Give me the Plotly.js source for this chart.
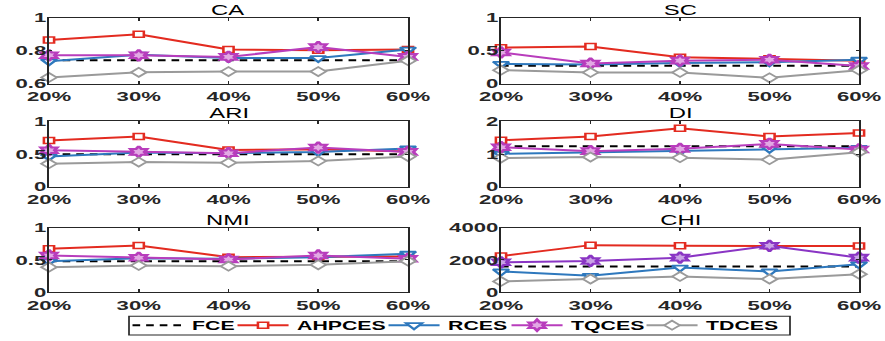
<!DOCTYPE html>
<html><head><meta charset="utf-8">
<script src="https://cdn.plot.ly/plotly-3.0.1.min.js"></script>
<style>
html,body{margin:0;padding:0;overflow:hidden;background:#fff}
#wrap{width:885px;height:341px;overflow:hidden}
#chart{width:520px;height:341px;transform:scaleX(1.701923);transform-origin:0 0}
</style></head><body><div id="wrap"><div id="chart"></div></div>
<script>
// ---- data ----
const xVals = [20, 30, 40, 50, 60];
const xLabels = ['20%', '30%', '40%', '50%', '60%'];
const seriesNames = ['FCE', 'AHPCES', 'RCES', 'TQCES', 'TDCES'];
const panelTitles = ['CA', 'SC', 'ARI', 'DI', 'NMI', 'CHI'];

const caFCE    = [0.742, 0.742, 0.742, 0.742, 0.742];
const caAHPCES = [0.865, 0.900, 0.807, 0.803, 0.807];
const caRCES   = [0.735, 0.776, 0.755, 0.755, 0.807];
const caTQCES  = [0.772, 0.772, 0.762, 0.822, 0.762];
const caTDCES  = [0.637, 0.668, 0.673, 0.673, 0.739];
const caTicks  = [0.6, 0.8, 1];
const caTickText = ['0.6', '0.8', '1'];

const scFCE    = [0.27, 0.27, 0.27, 0.27, 0.27];
const scAHPCES = [0.546, 0.565, 0.400, 0.377, 0.348];
const scRCES   = [0.300, 0.290, 0.314, 0.324, 0.362];
const scTQCES  = [0.473, 0.304, 0.348, 0.362, 0.266];
const scTDCES  = [0.203, 0.169, 0.169, 0.087, 0.203];
const scTicks  = [0, 0.5, 1];
const scTickText = ['0', '0.5', '1'];

const ariFCE    = [0.497, 0.497, 0.497, 0.497, 0.497];
const ariAHPCES = [0.708, 0.769, 0.564, 0.574, 0.538];
const ariRCES   = [0.462, 0.523, 0.513, 0.533, 0.585];
const ariTQCES  = [0.559, 0.533, 0.513, 0.600, 0.533];
const ariTDCES  = [0.354, 0.379, 0.369, 0.395, 0.462];
const ariTicks  = [0, 0.5, 1];
const ariTickText = ['0', '0.5', '1'];

const diFCE    = [1.24, 1.24, 1.24, 1.24, 1.24];
const diAHPCES = [1.424, 1.535, 1.788, 1.535, 1.646];
const diRCES   = [1.01, 1.06, 1.09, 1.16, 1.19];
const diTQCES  = [1.21, 1.09, 1.16, 1.31, 1.14];
const diTDCES  = [0.88, 0.91, 0.89, 0.83, 1.06];
const diTicks  = [0, 1, 2];
const diTickText = ['0', '1', '2'];

const nmiFCE    = [0.48, 0.48, 0.48, 0.48, 0.48];
const nmiAHPCES = [0.674, 0.725, 0.544, 0.554, 0.554];
const nmiRCES   = [0.482, 0.528, 0.518, 0.544, 0.596];
const nmiTQCES  = [0.570, 0.534, 0.508, 0.570, 0.518];
const nmiTDCES  = [0.389, 0.415, 0.404, 0.425, 0.482];
const nmiTicks  = [0, 0.5, 1];
const nmiTickText = ['0', '0.5', '1'];

const chiFCE    = [1590, 1590, 1590, 1590, 1590];
const chiAHPCES = [2245, 2918, 2877, 2877, 2857];
const chiRCES   = [1286, 1020, 1530, 1286, 1734];
const chiTQCES  = [1857, 1938, 2143, 2877, 2143];
const chiTDCES  = [673, 816, 980, 816, 1122];
const chiTicks  = [0, 2000, 4000];
const chiTickText = ['0', '2000', '4000'];

// ---- panels ----
const panels = [
  {data: [caFCE, caAHPCES, caRCES, caTQCES, caTDCES], ticks: caTicks, tt: caTickText, range: [0.6, 1]},
  {data: [scFCE, scAHPCES, scRCES, scTQCES, scTDCES], ticks: scTicks, tt: scTickText, range: [0, 1]},
  {data: [ariFCE, ariAHPCES, ariRCES, ariTQCES, ariTDCES], ticks: ariTicks, tt: ariTickText, range: [0, 1]},
  {data: [diFCE, diAHPCES, diRCES, diTQCES, diTDCES], ticks: diTicks, tt: diTickText, range: [0, 2]},
  {data: [nmiFCE, nmiAHPCES, nmiRCES, nmiTQCES, nmiTDCES], ticks: nmiTicks, tt: nmiTickText, range: [0, 1]},
  {data: [chiFCE, chiAHPCES, chiRCES, chiTQCES, chiTDCES], ticks: chiTicks, tt: chiTickText, range: [0, 4000]}
];

const W = 885, H = 341;
const xDom = [[49 / W, 408 / W], [501 / W, 859 / W]];
const yDom = [[1 - 84 / H, 1 - 18 / H], [1 - 188 / H, 1 - 122 / H], [1 - 294 / H, 1 - 229 / H]];
const legendLineStart = [135, 240, 391, 514, 649];

const RED = '#e32b20', BLUE = '#2e78bd', MAG = '#b83dbc', GRAY = '#9a9a9a', PURP = '#8a35c4';
function style(k, panelIdx) {
  if (k === 0) return {mode: 'lines', line: {color: '#000', width: 2, dash: '4.5px,3.5px'}};
  if (k === 1) return {mode: 'lines+markers', line: {color: RED, width: 2},
    marker: {symbol: 'square', size: 6, color: '#fff', line: {color: RED, width: 1.5}}};
  if (k === 2) return {mode: 'lines+markers', line: {color: BLUE, width: 2},
    marker: {symbol: 'triangle-down', size: 8, color: '#fff', line: {color: BLUE, width: 1.8}}};
  if (k === 3) { const c = panelIdx === 5 ? PURP : MAG;
    const f = panelIdx === 5 ? '#c9a3e6' : '#e2a9e4';
    return {mode: 'lines+markers', line: {color: c, width: 2},
    marker: {symbol: 'hexagram', size: 8.5, color: f, line: {color: c, width: 2}}}; }
  return {mode: 'lines+markers', line: {color: GRAY, width: 2},
    marker: {symbol: 'diamond', size: 7, color: '#fff', line: {color: GRAY, width: 1.5}}};
}

const FONT = 'Liberation Sans, Arial, sans-serif';
const traces = [];
const layout = {
  width: 520, height: 341, margin: {l: 0, r: 0, t: 0, b: 0},
  paper_bgcolor: '#fff', plot_bgcolor: '#fff',
  font: {family: FONT, color: '#262626'},
  showlegend: true,
  annotations: [],
  shapes: [{type: 'rect', xref: 'paper', yref: 'paper', x0: 129 / W, x1: 790 / W,
    y0: 1 - 337 / H, y1: 1 - 318 / H, line: {color: '#262626', width: 1}, fillcolor: 'rgba(0,0,0,0)'}]
};
seriesNames.forEach((n, k) => {
  layout['legend' + (k ? k + 1 : '')] = {orientation: 'h', x: (legendLineStart[k] - 11) / W, xanchor: 'left',
    y: 1 - 327.5 / H, yanchor: 'middle', borderwidth: 0, bgcolor: 'rgba(0,0,0,0)',
    font: {family: FONT, size: 12.5, weight: 'bold', color: '#000'}, itemwidth: 30};
});

panels.forEach((p, i) => {
  const col = i % 2, row = Math.floor(i / 2);
  const ax = i === 0 ? '' : String(i + 1);
  p.data.forEach((ys, k) => {
    const t = Object.assign({x: xVals, y: ys, name: seriesNames[k], xaxis: 'x' + ax, yaxis: 'y' + ax,
      showlegend: i === 0, legend: 'legend' + (k ? k + 1 : ''), legendgroup: seriesNames[k],
      cliponaxis: false, hoverinfo: 'skip'}, style(k, i));
    traces.push(t);
  });
  const tickFont = {family: FONT, size: 13, weight: 'bold', color: '#262626'};
  layout['xaxis' + ax] = {domain: xDom[col], anchor: 'y' + ax, range: [20, 60], tickmode: 'array',
    tickvals: xVals, ticktext: xLabels, showline: true, mirror: 'ticks', linecolor: '#262626', linewidth: 1,
    ticks: 'inside', ticklen: 3, tickcolor: '#262626', showgrid: false, zeroline: false, tickfont: tickFont,
    ticklabelstandoff: 1, fixedrange: true};
  layout['yaxis' + ax] = {domain: yDom[row], anchor: 'x' + ax, range: p.range, tickmode: 'array',
    tickvals: p.ticks, ticktext: p.tt, showline: true, mirror: 'ticks', linecolor: '#262626', linewidth: 1,
    ticks: 'inside', ticklen: 2, tickcolor: '#262626', showgrid: false, zeroline: false, tickfont: tickFont,
    ticklabelstandoff: -2, fixedrange: true};
  layout.annotations.push({text: panelTitles[i], xref: 'paper', yref: 'paper',
    x: (xDom[col][0] + xDom[col][1]) / 2, y: yDom[row][1], xanchor: 'center', yanchor: 'bottom', yshift: -2,
    showarrow: false, font: {family: FONT, size: 14, color: '#000'}});
});

Plotly.newPlot('chart', traces, layout, {displayModeBar: false, staticPlot: true});
</script></body></html>
